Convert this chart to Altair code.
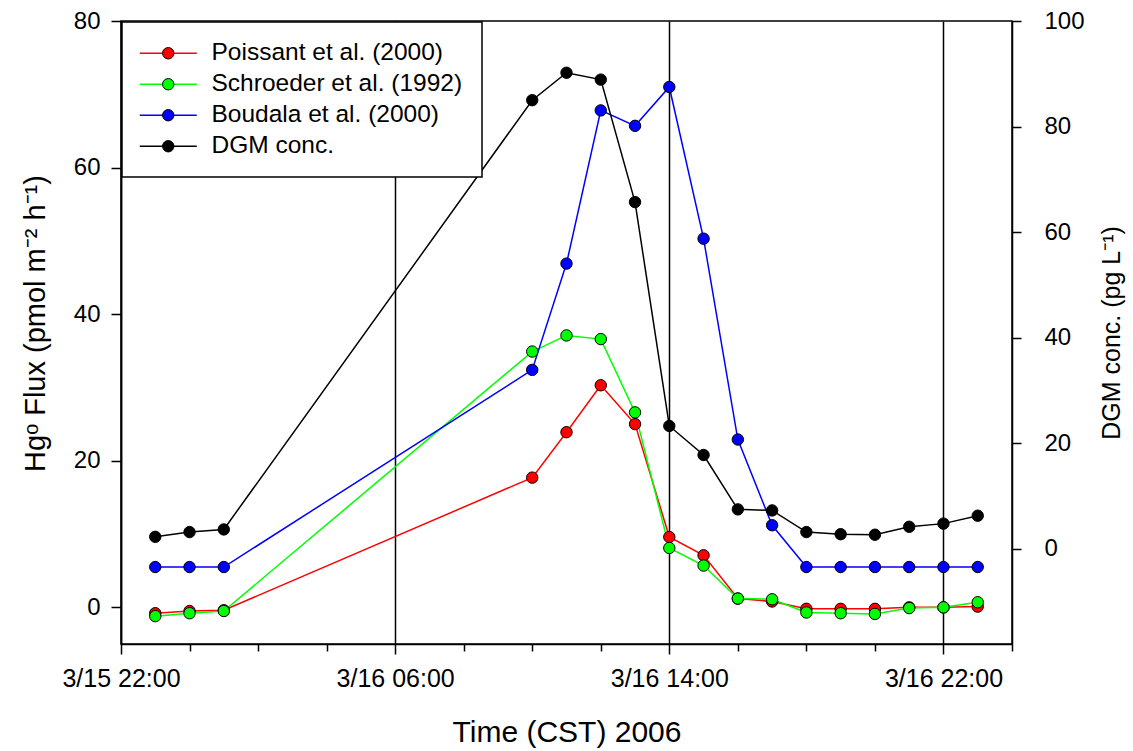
import altair as alt
import pandas as pd

# ---- data ----
times = [
    "2006-03-15T23:00", "2006-03-16T00:00", "2006-03-16T01:00",
    "2006-03-16T10:00", "2006-03-16T11:00", "2006-03-16T12:00",
    "2006-03-16T13:00", "2006-03-16T14:00", "2006-03-16T15:00",
    "2006-03-16T16:00", "2006-03-16T17:00", "2006-03-16T18:00",
    "2006-03-16T19:00", "2006-03-16T20:00", "2006-03-16T21:00",
    "2006-03-16T22:00", "2006-03-16T23:00",
]
poissant = [-0.8, -0.5, -0.4, 17.7, 23.9, 30.3, 25.0, 9.6, 7.1, 1.2, 0.8, -0.2, -0.2, -0.2, 0.0, 0.0, 0.1]
schroeder = [-1.2, -0.8, -0.5, 34.9, 37.1, 36.6, 26.6, 8.1, 5.7, 1.2, 1.1, -0.7, -0.8, -0.9, -0.1, 0.0, 0.7]
boudala = [5.5, 5.5, 5.5, 32.4, 46.9, 67.8, 65.7, 71.0, 50.3, 22.9, 11.2, 5.5, 5.5, 5.5, 5.5, 5.5, 5.5]
dgm = [2.3, 3.2, 3.7, 85.0, 90.2, 88.9, 65.7, 23.3, 17.8, 7.5, 7.3, 3.2, 2.8, 2.7, 4.2, 4.8, 6.3]

series_names = ["Poissant et al. (2000)", "Schroeder et al. (1992)", "Boudala et al. (2000)", "DGM conc."]
series_colors = ["#ff0000", "#00ff00", "#0000ff", "#000000"]

# x tick positions (month, day, hour): every 2 h, labelled every 8 h
x_ticks = [(3, 15, 22), (3, 16, 0), (3, 16, 2), (3, 16, 4), (3, 16, 6), (3, 16, 8),
           (3, 16, 10), (3, 16, 12), (3, 16, 14), (3, 16, 16), (3, 16, 18),
           (3, 16, 20), (3, 16, 22), (3, 17, 0)]
x_domain = [(3, 15, 22), (3, 17, 0)]
left_ticks = [0, 20, 40, 60, 80]
left_domain = [-5, 80]
right_ticks = [0, 20, 40, 60, 80, 100]
right_domain = [-18, 100]

FONT = "Liberation Sans"

flux_rows = []
for name, vals in zip(series_names[:3], [poissant, schroeder, boudala]):
    for t, v in zip(times, vals):
        flux_rows.append({"time": t, "value": v, "series": name})
flux_df = pd.DataFrame(flux_rows)
dgm_df = pd.DataFrame({"time": times, "value": dgm, "series": series_names[3]})


def dt(m, d, h):
    return alt.DateTime(year=2006, month=m, date=d, hours=h)


major = "hours(datum.value) % 8 == 6"

x_enc = alt.X(
    "time:T",
    scale=alt.Scale(domain=[dt(*x_domain[0]), dt(*x_domain[1])]),
    axis=alt.Axis(
        values=[dt(*v) for v in x_ticks],
        labelExpr=f"{major} ? timeFormat(datum.value, '%-m/%d %H:%M') : ''",
        labelOverlap=False,
        labelFlush=False,
        tickSize={"condition": {"test": major, "value": 10}, "value": 7},
        grid=True,
        gridColor="black",
        gridWidth=1.5,
        gridOpacity={"condition": {"test": major, "value": 1}, "value": 0},
        labelFontSize=25,
        labelPadding=12,
        title="Time (CST) 2006",
        titleFontSize=30,
        titlePadding=26,
    ),
)

y_left = alt.Y(
    "value:Q",
    scale=alt.Scale(domain=left_domain, nice=False, zero=False),
    axis=alt.Axis(
        values=left_ticks,
        grid=False,
        tickSize=10,
        labelPadding=11,
        labelFontSize=24,
        labelFlush=False,
        title="Hgᵒ Flux (pmol m⁻² h⁻¹)",
        titleFontSize=29,
        titlePadding=23,
        titleY=302,
    ),
)

y_right = alt.Y(
    "value:Q",
    scale=alt.Scale(domain=right_domain, nice=False, zero=False),
    axis=alt.Axis(
        orient="right",
        values=right_ticks,
        grid=False,
        tickSize=9,
        labelPadding=23,
        labelFontSize=24,
        labelFlush=False,
        title="DGM conc.  (pg L⁻¹)",
        titleAngle=270,
        titleFontSize=25,
        titlePadding=40,
    ),
)

color_scale = alt.Scale(domain=series_names, range=series_colors)

common_leg = dict(
    title=None,
    symbolSize=130,
    labelFontSize=24.5,
    labelFont=FONT,
    labelLimit=600,
    padding=19,
    rowPadding=6,
    symbolOffset=15,
    labelOffset=31,
)

stroke_enc = alt.Stroke(
    "series:N",
    scale=color_scale,
    legend=alt.Legend(
        orient="top-left",
        offset=1,
        symbolType="M-5,0L5,0",
        symbolStrokeWidth=1.5,
        strokeColor="black",
        fillColor="white",
        zindex=1,
        **common_leg,
    ),
)

fill_enc = alt.Fill(
    "series:N",
    scale=color_scale,
    legend=alt.Legend(
        orient="none",
        legendX=1,
        legendY=1,
        symbolType="circle",
        symbolStrokeColor="black",
        symbolStrokeWidth=1,
        symbolOpacity=1,
        labelOpacity=0,
        zindex=2,
        **common_leg,
    ),
)

flux = alt.Chart(flux_df)
flux_lines = flux.mark_line(strokeWidth=1.5).encode(x=x_enc, y=y_left, stroke=stroke_enc)
flux_pts = flux.mark_point(shape="circle", filled=True, size=130, stroke="black",
                           strokeWidth=1, opacity=1).encode(x=x_enc, y=y_left, fill=fill_enc)

dg = alt.Chart(dgm_df)
dgm_line = dg.mark_line(strokeWidth=1.5).encode(x=x_enc, y=y_right, stroke=stroke_enc)
dgm_pts = dg.mark_point(shape="circle", filled=True, size=130, stroke="black",
                        strokeWidth=1, opacity=1).encode(x=x_enc, y=y_right, fill=fill_enc)

left = alt.layer(flux_lines, flux_pts)
right = alt.layer(dgm_line, dgm_pts)

chart = (
    alt.layer(left, right)
    .resolve_scale(y="independent")
    .properties(
        width=891,
        height=623,
        autosize=alt.AutoSizeParams(type="none"),
        padding={"left": 121, "top": 21, "right": 121, "bottom": 107},
        background="white",
    )
    .configure(font=FONT)
    .configure_view(stroke="black", strokeWidth=1.5)
    .configure_axis(
        domainColor="black",
        domainWidth=1.5,
        tickColor="black",
        tickWidth=1.5,
        labelColor="black",
        titleColor="black",
        labelFont=FONT,
        titleFont=FONT,
        titleFontWeight="normal",
    )
    .configure_legend(strokeWidth=1.5)
)

chart.save("out.html", embed_options={"renderer": "svg", "actions": False})
